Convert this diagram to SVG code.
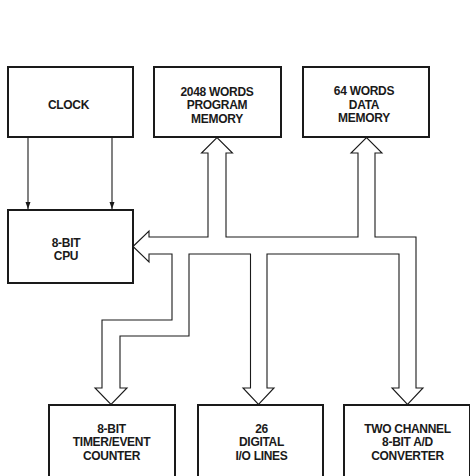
<svg xmlns="http://www.w3.org/2000/svg" width="470" height="476" viewBox="0 0 470 476">
<style>
.box{fill:#fff;stroke:#1a1a1a;stroke-width:2}
.t{font-family:"Liberation Sans",Arial,sans-serif;font-weight:bold;font-size:12px;letter-spacing:-0.3px;fill:#1a1a1a;text-anchor:middle}
.bus{fill:none;stroke:#1a1a1a;stroke-width:1.1;stroke-linejoin:miter}
.ln{stroke:#1a1a1a;stroke-width:1.1;fill:none}
</style>
<defs>
<marker id="ah" markerWidth="8" markerHeight="8" refX="7" refY="4" orient="auto" markerUnits="userSpaceOnUse">
<path d="M0,1.5 L7,4 L0,6.5 Z" fill="#1a1a1a"/>
</marker>
</defs>
<rect width="470" height="476" fill="#fff"/>
<g id="connectors">
<line class="ln" x1="28" y1="137" x2="28" y2="209" marker-end="url(#ah)"/>
<line class="ln" x1="112" y1="137" x2="112" y2="209" marker-end="url(#ah)"/>
<path class="bus" d="M133,246.5 L149,231 L149,237 L208,237 L208,153 L201.5,153 L217,137.5 L232.5,153 L226,153 L226,237 L358,237 L358,153 L351,153 L366.5,137.5 L382,153 L375,153 L375,237 L416,237 L416,388 L423,388 L407.5,404.5 L392,388 L399,388 L399,254 L267,254 L267,388 L274,388 L258.5,404.5 L243,388 L250.5,388 L250.5,254 L189,254 L189,336 L120,336 L120,388 L127,388 L111,404.5 L95,388 L102,388 L102,320 L172,320 L172,254 L149,254 L149,262 Z"/>
</g>
<g id="clock">
<rect class="box" x="8" y="67" width="125" height="70"/>
<text class="t" x="68.5" y="109">CLOCK</text>
</g>
<g id="program-memory">
<rect class="box" x="154" y="67" width="127" height="70"/>
<text class="t" x="217" y="95.5">2048 WORDS</text>
<text class="t" x="217" y="109">PROGRAM</text>
<text class="t" x="217" y="122.5">MEMORY</text>
</g>
<g id="data-memory">
<rect class="box" x="303" y="67" width="126" height="70"/>
<text class="t" x="364" y="95">64 WORDS</text>
<text class="t" x="364" y="108.5">DATA</text>
<text class="t" x="364" y="122">MEMORY</text>
</g>
<g id="cpu">
<rect class="box" x="8" y="210" width="125" height="73"/>
<text class="t" x="66" y="246.5">8-BIT</text>
<text class="t" x="66" y="260">CPU</text>
</g>
<g id="timer">
<rect class="box" x="49" y="405" width="126" height="80"/>
<text class="t" x="111.5" y="433">8-BIT</text>
<text class="t" x="111.5" y="446.3">TIMER/EVENT</text>
<text class="t" x="111.5" y="459.5">COUNTER</text>
</g>
<g id="io">
<rect class="box" x="198" y="405" width="125" height="80"/>
<text class="t" x="261.5" y="433">26</text>
<text class="t" x="261.5" y="446.3">DIGITAL</text>
<text class="t" x="261.5" y="459.5">I/O LINES</text>
</g>
<g id="adc">
<rect class="box" x="344" y="405" width="126" height="80"/>
<text class="t" x="407.5" y="433">TWO CHANNEL</text>
<text class="t" x="407.5" y="446.3">8-BIT A/D</text>
<text class="t" x="407.5" y="459.5">CONVERTER</text>
</g>
</svg>
